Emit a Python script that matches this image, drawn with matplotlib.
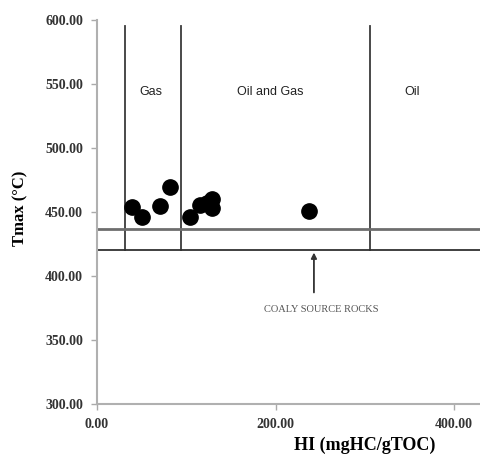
import matplotlib.pyplot as plt

# HI vs Tmax for the samples
hi = [39.6, 50.8, 70.6, 81.8, 104.2, 115.4, 122.8, 128.5, 128.5, 237.9]
tmax = [454.1, 446.3, 454.9, 469.3, 445.8, 455.5, 456.8, 459.9, 452.9, 451.0]

# zone boundaries
zone_hi = [31.4, 94.0, 306.0]
zone_names = ['Gas', 'Oil and Gas', 'Oil']
zone_label_x = [60, 194, 353]
tmax_lines = [420.0, 437.0]

fig = plt.figure(figsize=(4.8, 4.61), dpi=100)
ax = fig.add_axes([0.202, 0.1236, 0.798, 0.833])

ax.set_xlim(0, 429)
ax.set_ylim(300, 600)

for x in zone_hi:
    ax.plot([x, x], [tmax_lines[0], 595], color='#3a3a3a', lw=1.3, zorder=2)

ax.axhline(tmax_lines[1], color='#6e6e6e', lw=2.0, zorder=2)
ax.axhline(tmax_lines[0], color='#303030', lw=1.3, zorder=2)

for name, x in zip(zone_names, zone_label_x):
    ax.text(x, 544, name, ha='center', va='center', fontsize=9,
            family='Liberation Sans', color='#222222')

ax.plot(hi, tmax, 'o', color='black', markersize=11, zorder=3)

ax.annotate('', xy=(243, 420.5), xytext=(243, 385),
            arrowprops=dict(arrowstyle='-|>', color='#333333', lw=1.3,
                            mutation_scale=8))
ax.text(251, 374, 'COALY SOURCE ROCKS', ha='center', va='center',
        fontsize=7.5, family='Liberation Serif', color='#555555')

ax.set_xticks([0, 200, 400])
ax.set_yticks([300, 350, 400, 450, 500, 550, 600])
ax.xaxis.set_major_formatter(lambda v, p: f'{v:.2f}')
ax.yaxis.set_major_formatter(lambda v, p: f'{v:.2f}')
for lab in ax.get_xticklabels() + ax.get_yticklabels():
    lab.set_family('Liberation Serif')
    lab.set_fontweight('bold')
    lab.set_fontsize(10)
    lab.set_color('#333333')

ax.tick_params(direction='out', length=4, width=1, color='#aaaaaa', pad=6)
for s in ['top', 'right']:
    ax.spines[s].set_visible(False)
for s in ['left', 'bottom']:
    ax.spines[s].set_color('#b0b0b0')
    ax.spines[s].set_linewidth(1.5)

ax.set_xlabel('HI (mgHC/gTOC)', family='Liberation Serif', fontweight='bold',
              fontsize=13)
ax.xaxis.set_label_coords(0.70, -0.085)
ax.set_ylabel('Tmax (°C)', family='Liberation Serif', fontweight='bold',
              fontsize=12)
ax.yaxis.set_label_coords(-0.18, 0.51)

fig.savefig('out.png', dpi=100)
